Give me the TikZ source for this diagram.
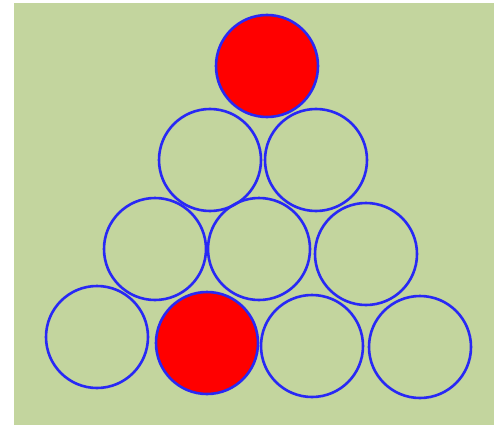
\documentclass[tikz,border=0pt]{standalone}
\usepackage{tikz}
\usetikzlibrary{backgrounds}

\definecolor{felt}{RGB}{195,213,158}
\definecolor{rim}{RGB}{40,40,245}

\begin{document}
\begin{tikzpicture}[
      x=1pt, y=-1pt,
      ball/.style={
        circle,
        draw=rim,
        line width=2.6pt,
        inner sep=0pt,
        minimum size=102pt
      },
      hitball/.style={
        ball,
        fill=red
      }
    ]

    % Canvas and table
    \useasboundingbox (0,0) rectangle (494,425);
    \fill[felt] (14,3) rectangle (494,425);

    % Row 1
    \node[hitball] (b1) at (267,66) {};

    % Row 2
    \node[ball] (b2) at (210,160) {};
    \node[ball] (b3) at (316,160) {};

    % Row 3
    \node[ball] (b4) at (155,249) {};
    \node[ball] (b5) at (259,249) {};
    \node[ball] (b6) at (366,254) {};

    % Row 4
    \node[ball] (b7) at (97,337) {};
    \node[hitball] (b8) at (207,343) {};
    \node[ball] (b9) at (312,346) {};
    \node[ball] (b10) at (420,347) {};

  \end{tikzpicture}
\end{document}
